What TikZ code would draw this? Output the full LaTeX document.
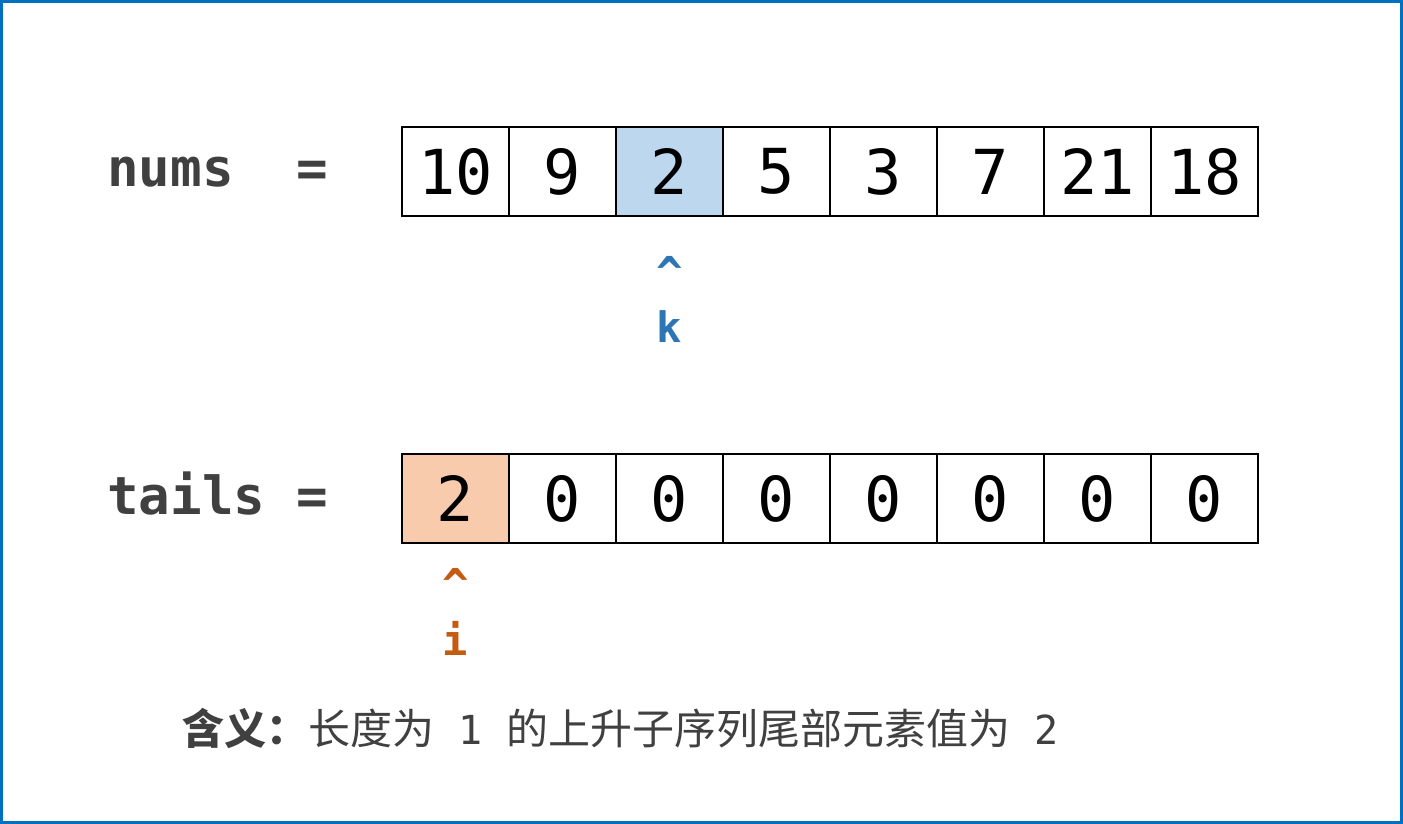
\documentclass[tikz,border=0pt]{standalone}
\usepackage{fontspec}
\setmonofont{DejaVu Sans Mono}
\newfontfamily\cjk{Noto Sans CJK SC}
\definecolor{frameblue}{HTML}{0070C0}
\definecolor{cellblue}{HTML}{BDD7EE}
\definecolor{cellorange}{HTML}{F8CBAD}
\definecolor{kblue}{HTML}{2E75B6}
\definecolor{iorange}{HTML}{C55A11}
\definecolor{txtgray}{HTML}{404040}
\tikzset{
  cell/.style={draw=black, line width=2pt, minimum width=107pt, minimum height=89pt, inner sep=0pt,
    font=\ttfamily\fontsize{62}{62}\selectfont},
  varlabel/.style={anchor=base west, inner sep=0pt, text=txtgray, font=\ttfamily\bfseries\fontsize{52.5}{52.5}\selectfont},
  caret/.style={anchor=north, inner sep=0pt, font=\ttfamily\bfseries\fontsize{44}{44}\selectfont},
  ptr/.style={anchor=base, inner sep=0pt, font=\ttfamily\bfseries\fontsize{42}{42}\selectfont},
}
\begin{document}
\begin{tikzpicture}[x=1pt, y=-1pt]
\useasboundingbox (0,0) rectangle (1403,824);
\draw[frameblue, line width=3pt] (1.5,1.5) rectangle (1401.5,822.5);
% labels
\node[varlabel] (numsl) at (107,186) {nums\ \ =};
\node[varlabel] (tailsl) at (107,514) {tails\ =};
% nums row
\foreach \v [count=\i from 0] in {10,9,2,5,3,7,21,18} {
  \ifnum\i=2
    \node[cell, fill=cellblue] (n\i) at ({402+107*\i+53.5},171.5) {\v};
  \else
    \node[cell] (n\i) at ({402+107*\i+53.5},171.5) {\v};
  \fi
}
% tails row
\foreach \v [count=\i from 0] in {2,0,0,0,0,0,0,0} {
  \ifnum\i=0
    \node[cell, fill=cellorange] (t\i) at ({402+107*\i+53.5},498.5) {\v};
  \else
    \node[cell] (t\i) at ({402+107*\i+53.5},498.5) {\v};
  \fi
}
% pointers
\node[caret, text=kblue] (kc) at (n2.center |- 0,256) {\^{}};
\node[ptr, text=kblue] (kl) at (n2.center |- 0,342) {k};
\node[caret, text=iorange] (ic) at (t0.center |- 0,568) {\^{}};
\node[ptr, text=iorange] (il) at (t0.center |- 0,655) {i};
% meaning
\node[anchor=base west, inner sep=0pt, text=txtgray, font=\fontsize{42}{42}\selectfont] (meaning) at (182,744)
  {\cjk\textbf{含义：}长度为\texttt{\fontsize{40}{40}\selectfont\ 1\ }的上升子序列尾部元素值为\texttt{\fontsize{40}{40}\selectfont\ 2}};
\end{tikzpicture}
\end{document}
